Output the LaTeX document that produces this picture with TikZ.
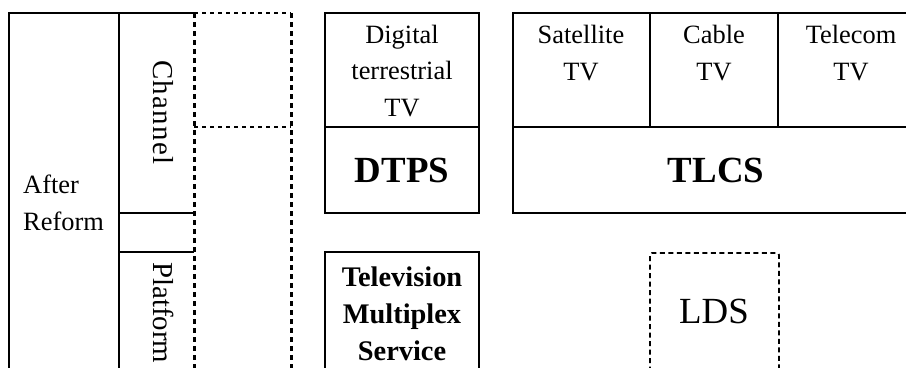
\documentclass[tikz,border=0pt]{standalone}
\usepackage{fontspec}
\setmainfont{Liberation Serif}
\begin{document}
\begin{tikzpicture}[x=1bp,y=-1bp,
  frame/.style={line width=2.4bp},
  dotcol/.style={line width=3bp, dash pattern=on 5bp off 4bp},
  dothz/.style={line width=2bp, dash pattern=on 4bp off 4bp},
  ldsbox/.style={line width=1.8bp, dash pattern=on 5bp off 3.5bp, rounded corners=2bp},
  txt/.style={font=\fontsize{26.5}{36.5}\selectfont, align=center, inner sep=0pt},
  boldtxt/.style={font=\fontsize{28.5}{37}\selectfont\bfseries, align=center, inner sep=0pt},
  bigbold/.style={font=\fontsize{37}{40}\selectfont\bfseries, inner sep=0pt},
  bigtxt/.style={font=\fontsize{37}{40}\selectfont, inner sep=0pt},
  sidetxt/.style={font=\fontsize{29}{32}\selectfont, inner sep=0pt, rotate=-90, anchor=base west}]
\useasboundingbox (0,0) rectangle (906,367);
\clip (0,0) rectangle (906,367);

% left column: reform stage, channel and platform
\draw[frame] (194,13) -- (9,13) -- (9,380);
\draw[frame] (119,13) -- (119,380);
\draw[frame] (119,213) -- (194,213);
\draw[frame] (119,252) -- (194,252);
\draw[dotcol] (194,13) -- (194,380);
\draw[dotcol] (291,13) -- (291,380);
\draw[dothz] (194,13) -- (291,13);
\draw[dothz] (194,127) -- (291,127);

\node[txt, align=left, anchor=base west] (reform) at (23,230) {After\\Reform};
\node[sidetxt] (channel) at (153,60) {\addfontfeature{LetterSpace=4.5}Channel};
\node[sidetxt] (platform) at (153,262) {Platform};

% digital terrestrial block
\draw[frame] (325,13) rectangle (479,213);
\draw[frame] (325,127) -- (479,127);
\node[txt, anchor=base] (dtv) at (402,116) {Digital\\terrestrial\\TV};
\node[bigbold] (dtps) at (402,170) {DTPS};

\draw[frame] (325,252) rectangle (479,380);
\node[boldtxt, anchor=base] (tms) at (402,360) {Television\\Multiplex\\Service};

% satellite, cable and telecom block
\draw[frame] (513,13) rectangle (925,213);
\draw[frame] (513,127) -- (925,127);
\draw[frame] (650,13) -- (650,127);
\draw[frame] (778,13) -- (778,127);
\node[txt, anchor=base] (sat) at (581,80) {Satellite\\TV};
\node[txt, anchor=base] (cab) at (714,80) {Cable\\TV};
\node[txt, anchor=base] (tel) at (851,80) {Telecom\\TV};
\node[bigbold] (tlcs) at (716,170) {TLCS};

% local distribution
\draw[ldsbox] (650,380) -- (650,253) -- (779,253) -- (779,380);
\node[bigtxt] (lds) at (714,311) {LDS};
\end{tikzpicture}
\end{document}
